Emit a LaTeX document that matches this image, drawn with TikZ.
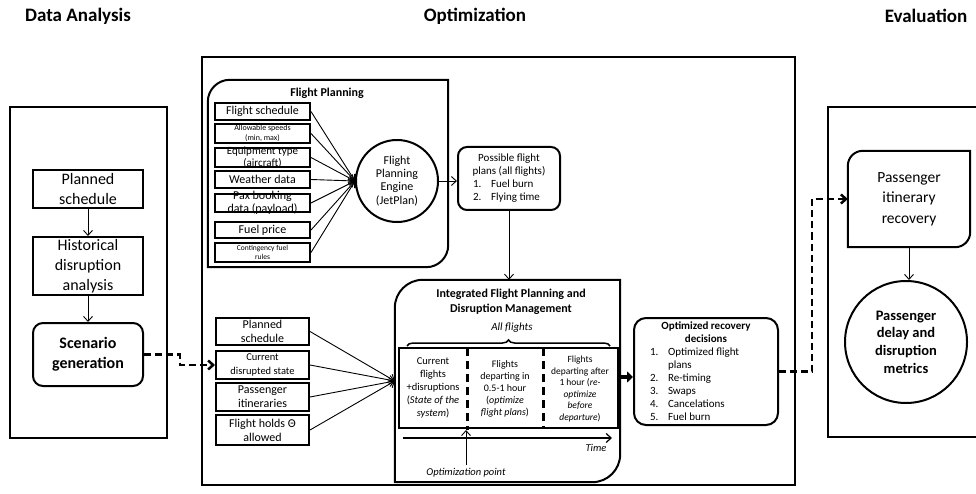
\documentclass[tikz,border=0pt]{standalone}
\usepackage{fontspec}
\setmainfont{Carlito}
\usepackage{tikz}
\usetikzlibrary{arrows.meta,decorations.pathreplacing,calc}
\newcommand{\fs}[2]{\fontsize{#1}{#2}\selectfont}
\newcommand{\itm}[2]{\hspace*{#1}\makebox[18pt][l]{#2}}
\newcommand{\diagframe}[2]{\draw[line width=2pt] (#1.west) [rounded corners=#2] |- (#1.north) [sharp corners] -| (#1.east) [rounded corners=#2] |- (#1.south) [sharp corners] -| cycle;}
\tikzset{
  head/.style={font=\fs{19}{22}\bfseries},
  frame/.style={draw, line width=2pt, inner sep=0pt},
  ibox/.style={draw, line width=2pt, inner sep=0pt, align=center},
  itxt/.style={align=center, inner sep=0pt},
  colt/.style={align=center, inner sep=0pt},
  link/.style={line width=0.9pt, -{Straight Barb[length=5pt,width=9pt]}},
  dlink/.style={line width=2.5pt, dash pattern=on 7pt off 4pt, -{Straight Barb[length=5pt,width=9pt]}},
  sep/.style={line width=3pt, dash pattern=on 8pt off 5pt},
}
\begin{document}
\begin{tikzpicture}[x=1pt,y=-1pt]
\useasboundingbox (0,0) rectangle (976,494);
\node[head] (hda) at (78,16) {Data Analysis};
\node[head] (hop) at (475,16) {Optimization};
\node[head] (hev) at (926,16) {Evaluation};

\node[frame, minimum width=157, minimum height=331] (da) at (88.5,272.5) {};
\node[frame, minimum width=593, minimum height=428] (op) at (498.5,271) {};
\draw[line width=2pt] (976,107) -| (828,437) -- (976,437);

\node[ibox, minimum width=110, minimum height=38, font=\fs{16}{20}] (ps) at (88,189) {Planned\\schedule};
\node[ibox, minimum width=110, minimum height=58, font=\fs{16}{20}] (hd) at (88,266) {Historical\\disruption\\analysis};
\node[ibox, rounded corners=10, minimum width=110, minimum height=63, font=\fs{16}{20}\bfseries] (sg) at (88,354.5) {Scenario\\generation};
\draw[link] (ps) -- (hd);
\draw[link] (hd) -- (sg);

\node[minimum width=240, minimum height=187, inner sep=0pt] (fpl) at (328,173.5) {};
\diagframe{fpl}{22}
\node[font=\fs{12}{14}\bfseries] (fplt) at (327,93) {Flight Planning};
\node[ibox, minimum width=95, minimum height=17, font=\fs{12}{14}] (i1) at (262.5,111.5) {Flight schedule};
\node[ibox, minimum width=95, minimum height=19, font=\fs{8}{9.5}] (i2) at (262.5,133.5) {Allowable speeds\\(min, max)};
\node[ibox, minimum width=95, minimum height=19, label={[itxt, font=\fs{11}{11.5}]center:{Equipment type\\(aircraft)}}] (i3) at (262.5,157.5) {};
\node[ibox, minimum width=95, minimum height=17, font=\fs{12}{14}] (i4) at (262.5,179.5) {Weather data};
\node[ibox, minimum width=95, minimum height=18, label={[itxt, font=\fs{12}{13}]center:{Pax booking\\data (payload)}}] (i5) at (262.5,203) {};
\node[ibox, minimum width=95, minimum height=16, font=\fs{12}{14}] (i6) at (262.5,230) {Fuel price};
\node[ibox, minimum width=95, minimum height=19, font=\fs{7.5}{9}] (i7) at (262.5,252.5) {Contingency fuel\\rules};
\node[draw, circle, line width=2pt, minimum size=82, inner sep=0pt, align=center, font=\fs{12}{13.3}] (eng) at (397,181) {Flight\\Planning\\Engine\\(JetPlan)};
\draw[link] (i1.east) -- (eng.west);
\draw[link] (i2.east) -- (eng.west);
\draw[link] (i3.east) -- (eng.west);
\draw[link] (i4.east) -- (eng.west);
\draw[link] (i5.east) -- (eng.west);
\draw[link] (i6.east) -- (eng.west);
\draw[link] (i7.east) -- (eng.west);

\node[draw, line width=2pt, rounded corners=9, minimum width=102, minimum height=63, inner sep=0pt] (pfp) at (509,178.5) {\begin{minipage}{92pt}\fs{11}{13}\centering Possible flight\\plans (all flights)\par\raggedright\itm{10pt}{1.}Fuel burn\\\itm{10pt}{2.}Flying time\end{minipage}};
\draw[link] (eng.east) -- (eng.east -| pfp.west);

\node[minimum width=225, minimum height=202, inner sep=0pt] (ifp) at (507.5,381) {};
\diagframe{ifp}{28}
\draw[link] (pfp.south) -- (pfp.south |- ifp.north);
\node[font=\fs{12}{15}\bfseries, align=center] (ifpt) at (511,302) {Integrated Flight Planning and\\Disruption Management};
\node[font=\fs{11}{13}\itshape] (allf) at (512,328) {All flights};
\draw[line width=1.5pt, decorate, decoration={brace, amplitude=6pt}] (407,346) -- (610,346);
\node[draw, line width=2pt, minimum width=219, minimum height=80, inner sep=0pt] (tl) at (508.5,388) {};
\draw[sep] (467,348) -- (467,430);
\draw[sep] (543,348) -- (543,428);
\node[colt, font=\fs{10.5}{13}] (c1) at (433,388) {Current\\flights\\+disruptions\\(\textit{State of the}\\\textit{system})};
\node[colt, font=\fs{10}{12}] (c2) at (505,389) {Flights\\departing in\\0.5-1 hour\\(\textit{optimize}\\\textit{flight plans})};
\node[colt, font=\fs{9.5}{11.5}] (c3) at (580,389) {Flights\\departing after\\1 hour (\textit{re-}\\\textit{optimize}\\\textit{before}\\\textit{departure})};
\coordinate (t0) at (403,438);
\coordinate (t1) at (612,438);
\draw[link, line width=1.2pt] (t0) -- (t1);
\node[font=\fs{10.5}{12}\itshape] (tm) at (596,448) {Time};
\node[font=\fs{10.5}{12}\itshape] (opp) at (466,473) {Optimization point};
\coordinate (s1) at (466,430);
\draw[link] (opp.north) -- (s1);

\node[draw, line width=2pt, rounded corners=12, minimum width=144, minimum height=107, inner sep=0pt] (ord) at (706,371.5) {\begin{minipage}{134pt}\fs{11}{13}\centering\textbf{Optimized recovery\\decisions}\par\raggedright\itm{11pt}{1.}Optimized flight\\\hspace*{29pt}plans\\\itm{11pt}{2.}Re-timing\\\itm{11pt}{3.}Swaps\\\itm{11pt}{4.}Cancelations\\\itm{11pt}{5.}Fuel burn\end{minipage}};
\coordinate (ta) at (620,377);
\draw[line width=4pt, -{Triangle[length=6pt,width=11pt]}] (ta) -- (ta -| ord.west);

\node[ibox, minimum width=93, minimum height=27, font=\fs{12}{14.5}] (j1) at (262.5,331.5) {Planned\\schedule};
\node[ibox, minimum width=93, minimum height=28, font=\fs{10.5}{13.5}] (j2) at (262.5,365) {Current\\disrupted state};
\node[ibox, minimum width=93, minimum height=28, font=\fs{12}{14}] (j3) at (262.5,397) {Passenger\\itineraries};
\node[ibox, minimum width=93, minimum height=30, font=\fs{12}{14}] (j4) at (262.5,430) {Flight holds Θ\\allowed};
\draw[link] (j1.east) -- (ifp.west);
\draw[link] (j2.east) -- (ifp.west);
\draw[link] (j3.east) -- (ifp.west);
\draw[link] (j4.east) -- (ifp.west);
\coordinate (b1) at (180,360);
\draw[dlink] (sg.east) -| (b1) |- (j2.west);

\node[minimum width=122, minimum height=96, inner sep=0pt, align=center, font=\fs{15.5}{20.5}] (pir) at (909,199) {Passenger\\itinerary\\recovery};
\diagframe{pir}{15}
\node[draw, circle, line width=2pt, minimum size=122, inner sep=0pt, align=center, font=\fs{14.5}{17.7}\bfseries] (pdm) at (906,342) {Passenger\\delay and\\disruption\\metrics};
\draw[link] (pir.south) -- (pir.south |- pdm.north);
\coordinate (b2) at (812,199);
\draw[dlink] (ord.east) -| (b2) -- (pir.west);
\end{tikzpicture}
\end{document}
